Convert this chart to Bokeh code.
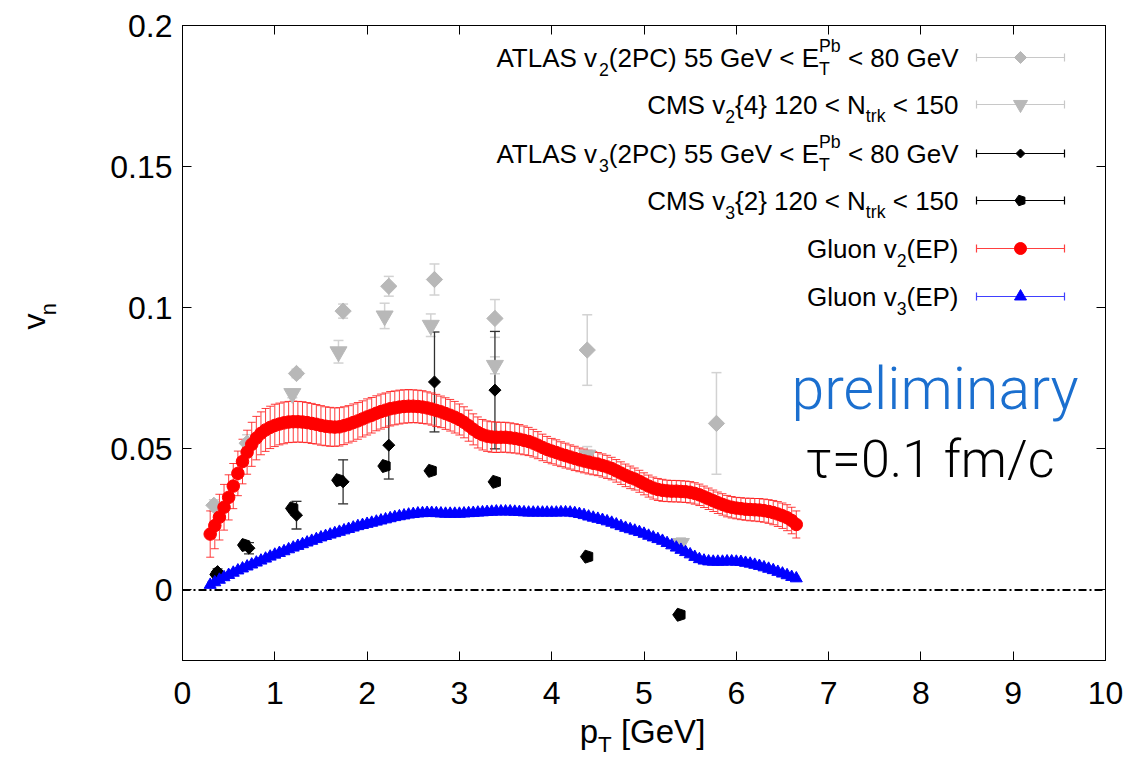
import math
from bokeh.plotting import figure
from bokeh.layouts import row, column
from bokeh.models import (ColumnDataSource, Whisker, TeeHead, Label, FixedTicker,
                          LinearAxis, Range1d, Span)
from bokeh.embed import file_html
from bokeh.resources import INLINE

# ---------------------------------------------------------------- data
PT = [0.30, 0.35, 0.40, 0.45, 0.50, 0.55, 0.60, 0.65, 0.70, 0.75,
      0.80, 0.85, 0.90, 0.95, 1.00, 1.05, 1.10, 1.15, 1.20, 1.25,
      1.30, 1.35, 1.40, 1.45, 1.50, 1.55, 1.60, 1.65, 1.70, 1.75,
      1.80, 1.85, 1.90, 1.95, 2.00, 2.05, 2.10, 2.15, 2.20, 2.25,
      2.30, 2.35, 2.40, 2.45, 2.50, 2.55, 2.60, 2.65, 2.70, 2.75,
      2.80, 2.85, 2.90, 2.95, 3.00, 3.05, 3.10, 3.15, 3.20, 3.25,
      3.30, 3.35, 3.40, 3.45, 3.50, 3.55, 3.60, 3.65, 3.70, 3.75,
      3.80, 3.85, 3.90, 3.95, 4.00, 4.05, 4.10, 4.15, 4.20, 4.25,
      4.30, 4.35, 4.40, 4.45, 4.50, 4.55, 4.60, 4.65, 4.70, 4.75,
      4.80, 4.85, 4.90, 4.95, 5.00, 5.05, 5.10, 5.15, 5.20, 5.25,
      5.30, 5.35, 5.40, 5.45, 5.50, 5.55, 5.60, 5.65, 5.70, 5.75,
      5.80, 5.85, 5.90, 5.95, 6.00, 6.05, 6.10, 6.15, 6.20, 6.25,
      6.30, 6.35, 6.40, 6.45, 6.50, 6.55, 6.60, 6.65]

GLUON_V2 = [0.0198, 0.0228, 0.0258, 0.0293, 0.0328, 0.0368, 0.0413, 0.0455, 0.0488, 0.0516,
            0.0538, 0.0555, 0.0567, 0.0576, 0.0583, 0.0588, 0.0592, 0.0595, 0.0596, 0.0596,
            0.0595, 0.0593, 0.0590, 0.0587, 0.0583, 0.0580, 0.0578, 0.0577, 0.0578, 0.0582,
            0.0587, 0.0593, 0.0599, 0.0606, 0.0613, 0.0619, 0.0626, 0.0632, 0.0637, 0.0642,
            0.0645, 0.0648, 0.0650, 0.0651, 0.0651, 0.0650, 0.0648, 0.0645, 0.0641, 0.0636,
            0.0631, 0.0625, 0.0619, 0.0612, 0.0604, 0.0594, 0.0582, 0.0569, 0.0558, 0.0550,
            0.0545, 0.0542, 0.0541, 0.0541, 0.0541, 0.0539, 0.0537, 0.0534, 0.0530, 0.0526,
            0.0520, 0.0513, 0.0505, 0.0498, 0.0492, 0.0487, 0.0481, 0.0476, 0.0471, 0.0466,
            0.0461, 0.0457, 0.0453, 0.0449, 0.0446, 0.0441, 0.0436, 0.0430, 0.0422, 0.0414,
            0.0406, 0.0399, 0.0393, 0.0385, 0.0376, 0.0368, 0.0361, 0.0356, 0.0353, 0.0351,
            0.0350, 0.0350, 0.0349, 0.0348, 0.0346, 0.0342, 0.0337, 0.0330, 0.0323, 0.0316,
            0.0309, 0.0303, 0.0297, 0.0293, 0.0290, 0.0288, 0.0286, 0.0285, 0.0284, 0.0283,
            0.0281, 0.0278, 0.0274, 0.0269, 0.0263, 0.0256, 0.0246, 0.0232]

GLUON_V2_ERR = [0.0082, 0.0082, 0.0081, 0.0081, 0.0080, 0.0080, 0.0079, 0.0079, 0.0078, 0.0078,
                0.0077, 0.0076, 0.0076, 0.0075, 0.0075, 0.0074, 0.0074, 0.0073, 0.0073, 0.0072,
                0.0072, 0.0071, 0.0071, 0.0070, 0.0070, 0.0069, 0.0069, 0.0068, 0.0068, 0.0067,
                0.0066, 0.0066, 0.0065, 0.0064, 0.0064, 0.0063, 0.0062, 0.0062, 0.0061, 0.0061,
                0.0060, 0.0060, 0.0059, 0.0059, 0.0058, 0.0058, 0.0058, 0.0057, 0.0057, 0.0057,
                0.0056, 0.0056, 0.0056, 0.0056, 0.0055, 0.0055, 0.0055, 0.0055, 0.0055, 0.0054,
                0.0054, 0.0054, 0.0054, 0.0053, 0.0053, 0.0053, 0.0052, 0.0052, 0.0051, 0.0050,
                0.0049, 0.0048, 0.0047, 0.0046, 0.0045, 0.0045, 0.0044, 0.0044, 0.0043, 0.0043,
                0.0042, 0.0042, 0.0042, 0.0041, 0.0041, 0.0041, 0.0041, 0.0040, 0.0040, 0.0040,
                0.0040, 0.0040, 0.0039, 0.0039, 0.0039, 0.0039, 0.0039, 0.0039, 0.0039, 0.0038,
                0.0038, 0.0038, 0.0038, 0.0038, 0.0038, 0.0038, 0.0038, 0.0038, 0.0038, 0.0038,
                0.0038, 0.0038, 0.0038, 0.0038, 0.0038, 0.0039, 0.0039, 0.0040, 0.0040, 0.0041,
                0.0041, 0.0042, 0.0043, 0.0044, 0.0045, 0.0046, 0.0047, 0.0048]

GLUON_V3 = [0.0018, 0.0027, 0.0036, 0.0045, 0.0053, 0.0061, 0.0069, 0.0076, 0.0083, 0.0090,
            0.0097, 0.0104, 0.0111, 0.0118, 0.0125, 0.0131, 0.0137, 0.0144, 0.0150, 0.0156,
            0.0162, 0.0168, 0.0174, 0.0180, 0.0186, 0.0191, 0.0196, 0.0201, 0.0206, 0.0211,
            0.0216, 0.0221, 0.0226, 0.0230, 0.0234, 0.0238, 0.0242, 0.0246, 0.0250, 0.0254,
            0.0258, 0.0261, 0.0264, 0.0267, 0.0269, 0.0271, 0.0272, 0.0273, 0.0273, 0.0272,
            0.0271, 0.0270, 0.0270, 0.0270, 0.0270, 0.0271, 0.0272, 0.0273, 0.0274, 0.0275,
            0.0276, 0.0277, 0.0278, 0.0278, 0.0278, 0.0278, 0.0277, 0.0276, 0.0275, 0.0274,
            0.0274, 0.0274, 0.0274, 0.0274, 0.0274, 0.0274, 0.0275, 0.0275, 0.0274, 0.0272,
            0.0269, 0.0265, 0.0260, 0.0256, 0.0252, 0.0248, 0.0243, 0.0238, 0.0232, 0.0226,
            0.0220, 0.0215, 0.0210, 0.0205, 0.0199, 0.0192, 0.0186, 0.0180, 0.0174, 0.0166,
            0.0158, 0.0150, 0.0142, 0.0134, 0.0126, 0.0117, 0.0109, 0.0104, 0.0101, 0.0100,
            0.0100, 0.0100, 0.0101, 0.0101, 0.0100, 0.0099, 0.0096, 0.0093, 0.0089, 0.0085,
            0.0080, 0.0075, 0.0070, 0.0064, 0.0058, 0.0052, 0.0046, 0.0041]

GLUON_V3_ERR = [0.0010, 0.0010, 0.0010, 0.0010, 0.0010, 0.0010, 0.0010, 0.0010, 0.0010, 0.0010,
                0.0010, 0.0010, 0.0010, 0.0010, 0.0010, 0.0010, 0.0010, 0.0010, 0.0010, 0.0010,
                0.0010, 0.0010, 0.0010, 0.0010, 0.0010, 0.0010, 0.0010, 0.0010, 0.0010, 0.0010,
                0.0010, 0.0010, 0.0010, 0.0010, 0.0010, 0.0010, 0.0010, 0.0010, 0.0010, 0.0010,
                0.0010, 0.0010, 0.0010, 0.0010, 0.0010, 0.0010, 0.0010, 0.0010, 0.0010, 0.0010,
                0.0010, 0.0010, 0.0010, 0.0010, 0.0010, 0.0010, 0.0010, 0.0010, 0.0010, 0.0010,
                0.0010, 0.0010, 0.0010, 0.0010, 0.0010, 0.0010, 0.0010, 0.0010, 0.0010, 0.0010,
                0.0010, 0.0010, 0.0010, 0.0010, 0.0010, 0.0010, 0.0010, 0.0010, 0.0010, 0.0010,
                0.0010, 0.0010, 0.0010, 0.0010, 0.0010, 0.0010, 0.0010, 0.0010, 0.0010, 0.0010,
                0.0010, 0.0010, 0.0010, 0.0010, 0.0010, 0.0010, 0.0010, 0.0010, 0.0010, 0.0010,
                0.0009, 0.0009, 0.0009, 0.0009, 0.0009, 0.0009, 0.0009, 0.0009, 0.0009, 0.0009,
                0.0009, 0.0009, 0.0009, 0.0009, 0.0009, 0.0009, 0.0009, 0.0009, 0.0009, 0.0009,
                0.0009, 0.0009, 0.0009, 0.0009, 0.0009, 0.0009, 0.0009, 0.0009]

ATLAS_V2_PT = [0.34, 0.70, 1.235, 1.74, 2.235, 2.73, 3.385, 4.385, 5.785]
ATLAS_V2 = [0.0300, 0.0520, 0.0767, 0.0988, 0.1076, 0.1100, 0.0962, 0.0850, 0.0590]
ATLAS_V2_ERR = [0.0020, 0.0030, 0.0015, 0.0025, 0.0035, 0.0055, 0.0067, 0.0125, 0.0180]

CMS_V2_PT = [1.19, 1.69, 2.19, 2.69, 3.385, 4.385, 5.40]
CMS_V2 = [0.0696, 0.0844, 0.0971, 0.0938, 0.0796, 0.0478, 0.0165]
CMS_V2_ERR = [0.0015, 0.0040, 0.0045, 0.0040, 0.0030, 0.0030, 0.0020]

ATLAS_V3_PT = [0.38, 0.72, 1.235, 1.74, 2.235, 2.73, 3.385]
ATLAS_V3 = [0.0065, 0.0148, 0.0265, 0.0383, 0.0513, 0.0737, 0.0708]
ATLAS_V3_ERR = [0.0010, 0.0020, 0.0049, 0.0078, 0.0120, 0.0177, 0.0208]

CMS_V3_PT = [0.37, 0.67, 1.19, 1.69, 2.19, 2.69, 3.385, 4.385, 5.385]
CMS_V3 = [0.0055, 0.0159, 0.0289, 0.0389, 0.0439, 0.0422, 0.0383, 0.0118, -0.0088]
CMS_V3_ERR = [0.0005, 0.0005, 0.0005, 0.0005, 0.0005, 0.0005, 0.0005, 0.0005, 0.0005]

X_TICKS = [0, 1, 2, 3, 4, 5, 6, 7, 8, 9, 10]
X_TICK_LABELS = ["0", "1", "2", "3", "4", "5", "6", "7", "8", "9", "10"]
Y_TICKS = [0, 0.05, 0.1, 0.15, 0.2]
Y_TICK_LABELS = ["0", "0.05", "0.1", "0.15", "0.2"]

# legend texts: (text, role) ; role n=normal, sub, subsup=(sub, sup)
LEGEND_TEXTS = [
    [("ATLAS v", "n"), ("2", "sub"), ("(2PC) 55 GeV < E", "n"), (("T", "Pb"), "subsup"), (" < 80 GeV", "n")],
    [("CMS v", "n"), ("2", "sub"), ("{4} 120 < N", "n"), ("trk", "sub"), (" < 150", "n")],
    [("ATLAS v", "n"), ("3", "sub"), ("(2PC) 55 GeV < E", "n"), (("T", "Pb"), "subsup"), (" < 80 GeV", "n")],
    [("CMS v", "n"), ("3", "sub"), ("{2} 120 < N", "n"), ("trk", "sub"), (" < 150", "n")],
    [("Gluon v", "n"), ("2", "sub"), ("(EP)", "n")],
    [("Gluon v", "n"), ("3", "sub"), ("(EP)", "n")],
]
X_LABEL = [("p", "n"), ("T", "sub"), (" [GeV]", "n")]
Y_LABEL = [("v", "n"), ("n", "sub")]
PRELIM = "preliminary"
TAU_TEXT = "\u03c4=0.1 fm/c"

# ---------------------------------------------------------------- layout
FONT = "Liberation Sans"
LIGHT_FONT = "Roboto Light"
K_FONT = 0.36        # measured shift of the alphabetic anchor (em) for FONT
K_LIGHT = 0.41       # same for LIGHT_FONT
CW, CH = 1135, 757                   # whole page
FL, FT, FW, FH = 182, 25, 923, 635   # frame left/top/width/height (page px)
YLAB_W = 70                          # left strip holding the y label
MAIN_H = 712                         # height of the row holding the plot
XR = (0.0, 10.0)
YR = (-0.025, 0.2)
GRAY = "#b8b8b8"
GRAY_ERR = "#d2d2d2"
BLACK_ERR = "#303030"


def X(px):   # page px -> data x
    return XR[0] + (px - FL) / FW * (XR[1] - XR[0])


def Y(py):   # page px -> data y
    return YR[1] - (py - FT) / FH * (YR[1] - YR[0])


AFM = {' ': 278, '(': 333, ')': 333, '.': 278, '/': 278, '<': 584, '=': 584,
       '[': 278, ']': 278, '{': 334, '}': 334,
       'A': 667, 'C': 722, 'E': 667, 'G': 778, 'L': 556, 'M': 833, 'N': 722,
       'P': 667, 'S': 667, 'T': 611, 'V': 667,
       'a': 556, 'b': 556, 'c': 500, 'e': 556, 'f': 278, 'i': 222, 'k': 500,
       'l': 222, 'm': 833, 'n': 556, 'o': 556, 'p': 556, 'r': 333, 't': 278,
       'u': 556, 'v': 500, 'y': 500}


def tw(s, size):
    return sum(AFM.get(c, 556) for c in s) / 1000.0 * size


p = figure(width=CW - YLAB_W, height=MAIN_H,
           x_range=Range1d(*XR), y_range=Range1d(*YR),
           output_backend="svg", toolbar_location=None,
           min_border_left=FL - YLAB_W, min_border_right=CW - FL - FW,
           min_border_top=FT, min_border_bottom=MAIN_H - FT - FH,
           background_fill_color="white", border_fill_color="white")
p.xgrid.visible = False
p.ygrid.visible = False
p.outline_line_color = "black"
p.outline_line_width = 1


def style_axis(ax, show_labels, standoff):
    ax.major_tick_in = 9
    ax.major_tick_out = 0
    ax.minor_tick_in = 0
    ax.minor_tick_out = 0
    ax.axis_line_color = "black"
    ax.axis_line_width = 1
    ax.major_tick_line_color = "black"
    ax.major_tick_line_width = 1
    ax.major_label_text_font = FONT
    ax.major_label_text_color = "black"
    ax.major_label_standoff = standoff
    ax.major_label_text_font_size = "32px" if show_labels else "10px"


p.xaxis.ticker = FixedTicker(ticks=X_TICKS)
p.xaxis.major_label_overrides = {t: l for t, l in zip(X_TICKS, X_TICK_LABELS)}
p.yaxis.ticker = FixedTicker(ticks=Y_TICKS)
p.yaxis.major_label_overrides = {t: l for t, l in zip(Y_TICKS, Y_TICK_LABELS)}
style_axis(p.xaxis[0], True, 21)
style_axis(p.yaxis[0], True, 10)

top_ax = LinearAxis(ticker=FixedTicker(ticks=X_TICKS),
                    major_label_overrides={t: "" for t in X_TICKS})
right_ax = LinearAxis(ticker=FixedTicker(ticks=Y_TICKS),
                      major_label_overrides={t: "" for t in Y_TICKS})
style_axis(top_ax, False, 0)
style_axis(right_ax, False, 0)
p.add_layout(top_ax, "above")
p.add_layout(right_ax, "right")

# zero line
p.add_layout(Span(location=0, dimension="width", line_color="black",
                  line_width=2, line_dash="8 3 2 3"))


def err_source(xs, ys, es):
    return ColumnDataSource(dict(x=xs, y=ys,
                                 lo=[a - b for a, b in zip(ys, es)],
                                 hi=[a + b for a, b in zip(ys, es)]))


def add_whisker(src, color, width, head, alpha=1.0):
    w = Whisker(source=src, base="x", lower="lo", upper="hi", dimension="height",
                line_color=color, line_width=width, line_alpha=alpha,
                lower_head=TeeHead(size=head, line_color=color, line_width=width, line_alpha=alpha),
                upper_head=TeeHead(size=head, line_color=color, line_width=width, line_alpha=alpha))
    p.add_layout(w)


def pentagons(xs, ys, r, color):
    try:
        p.ngon(x=xs, y=ys, radius=r, radius_units="screen", n=5, angle=math.pi / 2,
               fill_color=color, line_color=color)
    except Exception:
        p.scatter(x=xs, y=ys, marker="hex", size=2 * r, fill_color=color, line_color=color)


# experimental data
s_av2 = err_source(ATLAS_V2_PT, ATLAS_V2, ATLAS_V2_ERR)
add_whisker(s_av2, GRAY_ERR, 1.5, 10)
p.scatter("x", "y", source=s_av2, marker="square", angle=math.pi / 4, size=11.5,
          fill_color=GRAY, line_color=GRAY)

s_cv2 = err_source(CMS_V2_PT, CMS_V2, CMS_V2_ERR)
add_whisker(s_cv2, GRAY_ERR, 1.5, 10)
p.scatter("x", "y", source=s_cv2, marker="inverted_triangle", size=17,
          fill_color=GRAY, line_color=GRAY)

s_av3 = err_source(ATLAS_V3_PT, ATLAS_V3, ATLAS_V3_ERR)
add_whisker(s_av3, BLACK_ERR, 1.3, 10)
p.scatter("x", "y", source=s_av3, marker="square", angle=math.pi / 4, size=8.5,
          fill_color="black", line_color="black")

s_cv3 = err_source(CMS_V3_PT, CMS_V3, CMS_V3_ERR)
add_whisker(s_cv3, BLACK_ERR, 1.3, 8)
pentagons(CMS_V3_PT, CMS_V3, 6.8, "black")

# gluon curves
s_g2 = err_source(PT, GLUON_V2, GLUON_V2_ERR)
add_whisker(s_g2, "#ff1a1a", 1, 8, 0.85)
p.scatter("x", "y", source=s_g2, marker="circle", size=12.5,
          fill_color="#ff0000", line_color="#ff0000")

s_g3 = err_source(PT, GLUON_V3, GLUON_V3_ERR)
add_whisker(s_g3, "#0000ff", 1, 6, 0.8)
p.scatter("x", "y", source=s_g3, marker="triangle", size=12,
          fill_color="#0000ff", line_color="#0000ff")


# ---------------------------------------------------------------- rich text
def rich_width(pieces, size, sub_ratio=0.68):
    w = 0
    for text, role in pieces:
        if role == "n":
            w += tw(text, size)
        elif role == "sub":
            w += tw(text, size * sub_ratio)
        else:
            w += max(tw(text[0], size * sub_ratio), tw(text[1], size * sub_ratio))
    return w


def draw_rich(fig, fx, fy, pieces, x_left, base, size, color, sub_ratio=0.68, angle=0.0,
              sub_drop=0.34):
    """Lay text pieces along the writing direction; fx/fy map page px -> fig coords."""
    sub_size = size * sub_ratio
    ca, sa = math.cos(angle), math.sin(angle)

    def put(text, along, drop, fsize):
        drop = drop - K_FONT * fsize          # compensate the anchor offset
        px = x_left + along * ca + drop * sa
        py = base - along * sa + drop * ca
        fig.add_layout(Label(x=fx(px), y=fy(py), text=text, angle=angle,
                             text_font=FONT, text_font_size=f"{fsize:.1f}px",
                             text_color=color, text_align="left",
                             text_baseline="alphabetic"))

    adv = 0.0
    for text, role in pieces:
        if role == "n":
            lead = len(text) - len(text.lstrip())
            put(text.strip(), adv + tw(" " * lead, size), 0, size)
            adv += tw(text, size)
        elif role == "sub":
            put(text, adv, sub_drop * size, sub_size)
            adv += tw(text, sub_size)
        else:
            sb, sp = text
            put(sb, adv, sub_drop * size, sub_size)
            put(sp, adv, -0.55 * size, sub_size)
            adv += max(tw(sb, sub_size), tw(sp, sub_size))


# legend (inside the frame)
LEG_SIZE = 26
LEG_RIGHT = 958
LEG_ROWS_Y = [57, 104, 153, 200, 248, 296]
LEG_X0, LEG_X1, LEG_XM = 976, 1064, 1020
LEG_STYLE = [
    ("#c8c8c8", GRAY, "diamond", 12),
    ("#c8c8c8", GRAY, "inverted_triangle", 14),
    ("black", "black", "diamond", 9),
    ("black", "black", "pentagon", 5.5),
    ("#ff4040", "#ff0000", "circle", 12),
    ("#4040ff", "#0000ff", "triangle", 12),
]
for pieces, yc, (lc, mc, mk, ms) in zip(LEGEND_TEXTS, LEG_ROWS_Y, LEG_STYLE):
    w = rich_width(pieces, LEG_SIZE)
    draw_rich(p, X, Y, pieces, LEG_RIGHT - w, yc + 0.36 * LEG_SIZE, LEG_SIZE, "black")
    p.segment(x0=[X(LEG_X0)], y0=[Y(yc)], x1=[X(LEG_X1)], y1=[Y(yc)], line_color=lc, line_width=1.2)
    p.segment(x0=[X(LEG_X0), X(LEG_X1)], y0=[Y(yc - 4), Y(yc - 4)],
              x1=[X(LEG_X0), X(LEG_X1)], y1=[Y(yc + 4), Y(yc + 4)], line_color=lc, line_width=1.2)
    if mk == "diamond":
        p.scatter(x=[X(LEG_XM)], y=[Y(yc)], marker="square", angle=math.pi / 4, size=ms / 1.414,
                  fill_color=mc, line_color=mc)
    elif mk == "pentagon":
        pentagons([X(LEG_XM)], [Y(yc)], ms, mc)
    else:
        p.scatter(x=[X(LEG_XM)], y=[Y(yc)], marker=mk, size=ms, fill_color=mc, line_color=mc)

# annotations
PRELIM_SIZE, TAU_SIZE = 59, 52
p.add_layout(Label(x=X(791), y=Y(412 - K_LIGHT * PRELIM_SIZE), text=PRELIM, text_font=LIGHT_FONT,
                   text_font_size=f"{PRELIM_SIZE}px", text_color="#1b6fcf", text_align="left",
                   text_baseline="alphabetic"))
p.add_layout(Label(x=X(805), y=Y(480 - K_LIGHT * TAU_SIZE), text=TAU_TEXT, text_font=LIGHT_FONT,
                   text_font_size=f"{TAU_SIZE}px", text_color="black", text_align="left",
                   text_baseline="alphabetic"))


# ---------------------------------------------------------------- axis-title strips
def strip(w, h):
    f = figure(width=w, height=h, x_range=Range1d(0, w), y_range=Range1d(h, 0),
               output_backend="svg", toolbar_location=None,
               x_axis_type=None, y_axis_type=None, min_border=0,
               background_fill_color=None, border_fill_color=None)
    f.outline_line_color = None
    f.xgrid.visible = False
    f.ygrid.visible = False
    return f


ylab = strip(YLAB_W, MAIN_H)
YL_SIZE = 32
draw_rich(ylab, lambda v: v, lambda v: v, Y_LABEL, 45, 341, YL_SIZE, "black",
          angle=math.pi / 2)

xlab = strip(CW, CH - MAIN_H)
XL_SIZE = 33
xw = rich_width(X_LABEL, XL_SIZE)
draw_rich(xlab, lambda v: v, lambda v: v - MAIN_H, X_LABEL, 642 - xw / 2, 743, XL_SIZE, "black",
          sub_drop=0.26)

layout = column(row(ylab, p, spacing=0), xlab, spacing=0)
open("out.html", "w").write(file_html(layout, INLINE, title="vn vs pT"))
